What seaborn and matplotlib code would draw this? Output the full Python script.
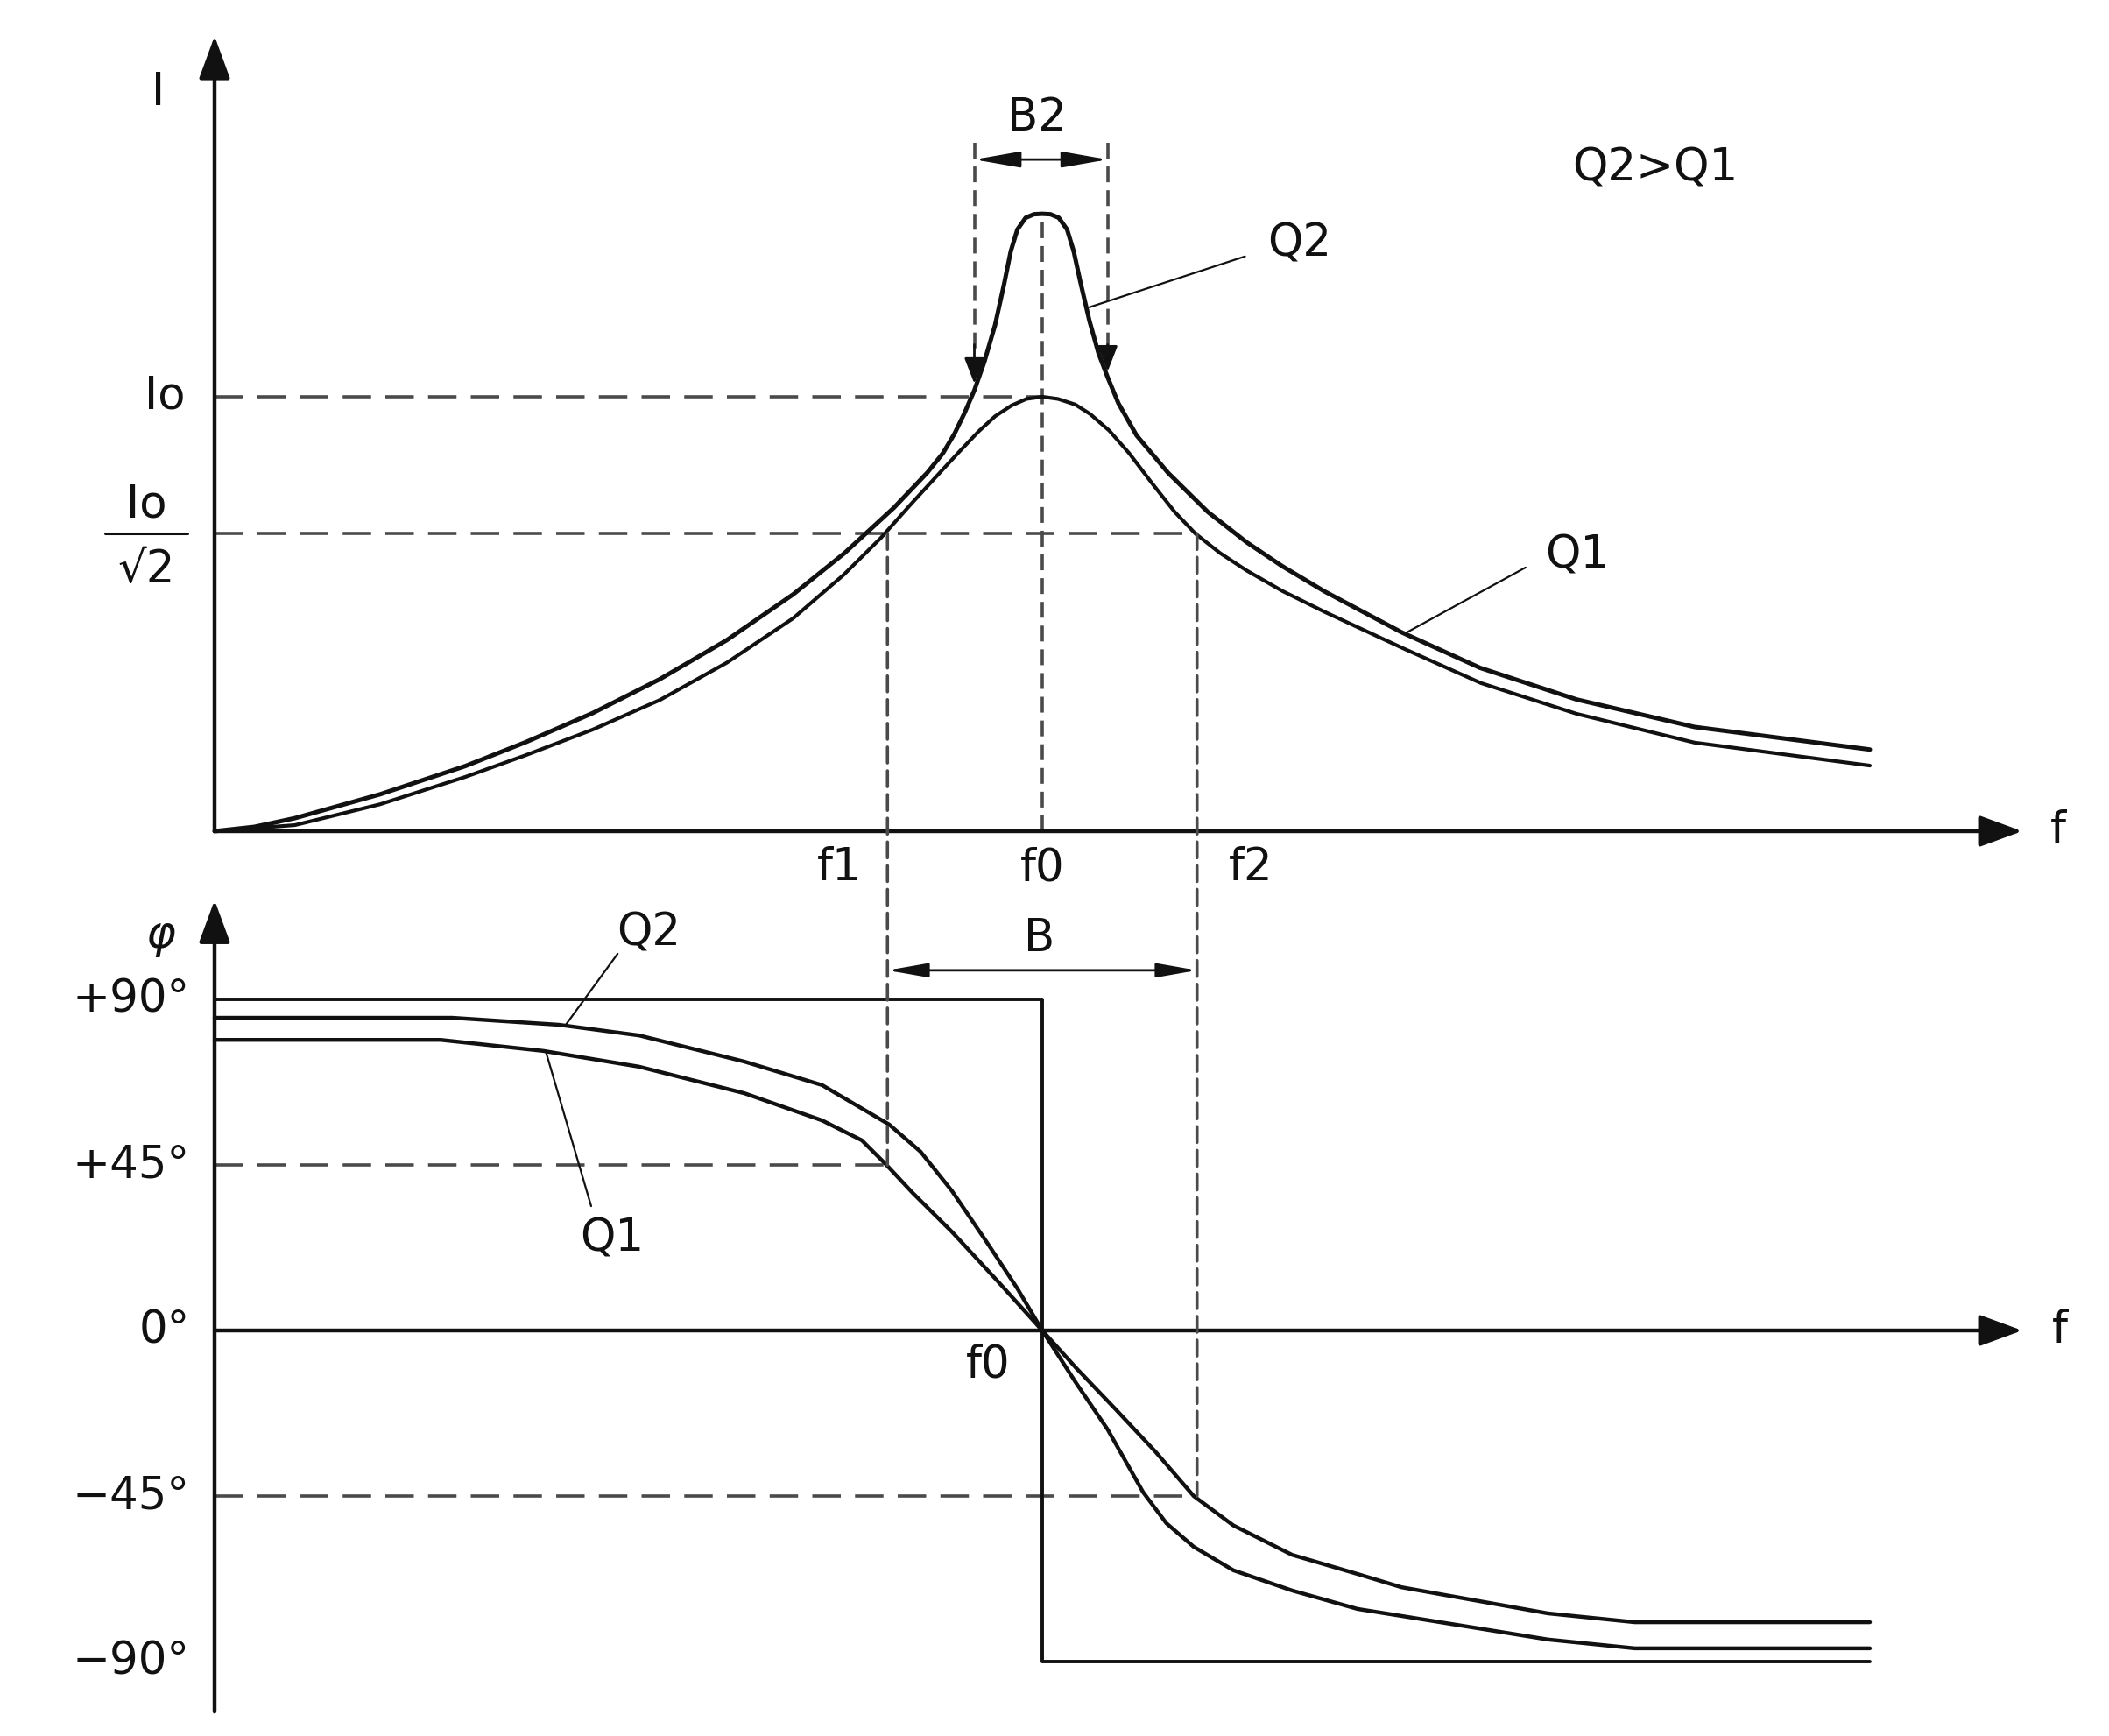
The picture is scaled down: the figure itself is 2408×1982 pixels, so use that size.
import matplotlib
matplotlib.use("Agg")
import matplotlib.pyplot as plt
import seaborn as sns
from matplotlib.patches import ConnectionPatch

# resonance curves, f in units of f0, I in units of Io
q1_f = [0, 0.097, 0.200, 0.303, 0.376, 0.457, 0.538, 0.619, 0.699, 0.760, 0.805, 0.841,
        0.881, 0.903, 0.923, 0.943, 0.963, 0.981, 1.0, 1.019, 1.040, 1.058, 1.081, 1.105,
        1.133, 1.160, 1.185, 1.215, 1.247, 1.290, 1.341, 1.436, 1.530, 1.646, 1.788, 2.0]
q1_i = [0, 0.014, 0.062, 0.125, 0.175, 0.234, 0.302, 0.388, 0.490, 0.590, 0.675, 0.752,
        0.835, 0.880, 0.920, 0.955, 0.980, 0.995, 1.0, 0.995, 0.982, 0.960, 0.922, 0.870,
        0.800, 0.735, 0.685, 0.640, 0.600, 0.553, 0.505, 0.421, 0.341, 0.270, 0.204, 0.151]
q2_f = [0, 0.048, 0.097, 0.200, 0.303, 0.376, 0.457, 0.538, 0.619, 0.699, 0.761, 0.821,
        0.861, 0.880, 0.894, 0.906, 0.918, 0.930, 0.943, 0.954, 0.962, 0.970, 0.980, 0.990,
        1.0, 1.010, 1.020, 1.030, 1.038, 1.046, 1.057, 1.068, 1.079, 1.092, 1.114, 1.152,
        1.200, 1.247, 1.290, 1.341, 1.434, 1.529, 1.646, 1.788, 2.0]
q2_i = [0, 0.010, 0.030, 0.085, 0.150, 0.205, 0.272, 0.350, 0.440, 0.545, 0.640, 0.745,
        0.825, 0.870, 0.915, 0.962, 1.015, 1.080, 1.165, 1.260, 1.335, 1.385, 1.412, 1.420,
        1.421, 1.420, 1.412, 1.385, 1.335, 1.265, 1.175, 1.100, 1.045, 0.985, 0.911, 0.825,
        0.735, 0.665, 0.610, 0.552, 0.458, 0.376, 0.303, 0.240, 0.188]

# phase curves (degrees)
ph1_f = [0, 0.273, 0.397, 0.513, 0.640, 0.734, 0.782, 0.811, 0.843, 0.891, 0.947, 1.0,
         1.041, 1.089, 1.137, 1.183, 1.231, 1.302, 1.381, 1.434, 1.611, 1.716, 2.0]
ph1 = [79, 79, 76.0, 71.7, 64.5, 57.1, 51.7, 45.2, 37.5, 26.8, 13.2, 0,
       -10.2, -21.5, -33.0, -45.0, -53.0, -61.0, -66.2, -69.8, -76.9, -79.3, -79.3]
ph2_f = [0, 0.287, 0.416, 0.513, 0.640, 0.734, 0.815, 0.853, 0.891, 0.933, 0.970, 1.0,
         1.041, 1.079, 1.122, 1.150, 1.183, 1.231, 1.302, 1.381, 1.434, 1.611, 1.716, 2.0]
ph2 = [85, 85, 83.1, 80.2, 73.1, 66.7, 56.0, 48.6, 37.9, 24.0, 11.4, 0,
       -14.3, -26.9, -44.0, -52.4, -58.8, -65.2, -70.7, -75.7, -77.6, -84.0, -86.4, -86.4]
ideal_f = [0, 1.0, 1.0, 2.0]
ideal_ph = [90, 90, -90, -90]

f0, f1, f2 = 1.0, 0.813, 1.187
b2_lo, b2_hi = 0.918, 1.079
io, io_r2 = 1.0, 0.685
q2_peak = 1.42
phase_ticks = [90, 45, 0, -45, -90]
phase_labels = ["+90°", "+45°", "0°", "−45°", "−90°"]

sns.set_theme(style="white")
plt.rcParams['font.family'] = ['DejaVu Sans']

fig = plt.figure(figsize=(24.08, 19.82), dpi=100)
ax1 = fig.add_axes([0.10174, 0.5212, 0.8830, 0.4755])
ax2 = fig.add_axes([0.10174, 0.00898, 0.8830, 0.4789])
ax1.set_xlim(0, 2.25)
ax1.set_ylim(0, 1.9)
ax2.set_xlim(0, 2.25)
ax2.set_ylim(-106, 120)
for ax in (ax1, ax2):
    ax.axis('off')

ink = '#111111'
dash_c = '#4a4a4a'
fs = 37
long_dash = (0, (9, 4.5))
short_dash = (0, (5, 2.5))


def axis_arrow(ax, start, tip):
    ax.annotate('', xy=tip, xytext=start,
                arrowprops=dict(arrowstyle='-|>,head_length=0.6,head_width=0.22',
                                lw=3.2, color=ink, mutation_scale=50,
                                shrinkA=0, shrinkB=0))


def band_arrow(ax, a, b, y, ms):
    ax.annotate('', xy=(b, y), xytext=(a, y),
                arrowprops=dict(arrowstyle='<|-|>,head_length=0.8,head_width=0.14',
                                lw=2, color=ink, mutation_scale=ms,
                                shrinkA=0, shrinkB=0))


def label(ax, x, y, s, **kw):
    ax.text(x, y, s, fontsize=fs, color=ink, va='center', **kw)


# ---- upper: amplitude ----
axis_arrow(ax1, (0, 0), (0, 1.83))
axis_arrow(ax1, (0, 0), (2.184, 0))

ax1.plot([0, f0], [io, io], ls=long_dash, lw=2.6, color=dash_c, clip_on=False)
ax1.plot([0, f2], [io_r2, io_r2], ls=long_dash, lw=2.6, color=dash_c, clip_on=False)
ax1.plot([f0, f0], [0, q2_peak], ls=short_dash, lw=2.6, color=dash_c, clip_on=False)
for b, tip in [(b2_lo, 1.030), (b2_hi, 1.058)]:
    ax1.plot([b, b], [1.585, 1.11], ls=short_dash, lw=2.6, color=dash_c, clip_on=False)
    ax1.annotate('', xy=(b, tip), xytext=(b, 1.12),
                 arrowprops=dict(arrowstyle='-|>,head_length=0.9,head_width=0.35',
                                 lw=2, color=ink, mutation_scale=20,
                                 shrinkA=0, shrinkB=0))
band_arrow(ax1, b2_lo, b2_hi, 1.546, 40)

sns.lineplot(x=q1_f, y=q1_i, ax=ax1, color=ink, lw=3.0, estimator=None, sort=False,
             clip_on=False, solid_joinstyle='round')
sns.lineplot(x=q2_f, y=q2_i, ax=ax1, color=ink, lw=3.6, estimator=None, sort=False,
             clip_on=False, solid_joinstyle='round')

ax1.plot([1.245, 1.057], [1.323, 1.206], color=ink, lw=1.6)
ax1.plot([1.584, 1.438], [0.607, 0.455], color=ink, lw=1.6)

label(ax1, -0.068, 1.70, "I", ha='center')
label(ax1, -0.035, io, "Io", ha='right')
label(ax1, -0.082, io_r2 + 0.065, "Io", ha='center')
ax1.plot([-0.132, -0.033], [io_r2, io_r2], color=ink, lw=2.2, clip_on=False)
label(ax1, -0.082, io_r2 - 0.085, "√2", ha='center')
label(ax1, 0.755, -0.085, "f1", ha='center')
label(ax1, 1.0, -0.085, "f0", ha='center')
label(ax1, 1.252, -0.085, "f2", ha='center')
label(ax1, 2.227, 0.0, "f", ha='center')
label(ax1, 0.994, 1.641, "B2", ha='center')
label(ax1, 1.740, 1.526, "Q2>Q1", ha='center')
label(ax1, 1.311, 1.351, "Q2", ha='center')
label(ax1, 1.646, 0.635, "Q1", ha='center')

# ---- lower: phase ----
axis_arrow(ax2, (0, -103.6), (0, 117))
axis_arrow(ax2, (0, 0), (2.184, 0))

ax2.plot([0, f1], [45, 45], ls=long_dash, lw=2.6, color=dash_c, clip_on=False)
ax2.plot([0, f2], [-45, -45], ls=long_dash, lw=2.6, color=dash_c, clip_on=False)
for fx, ph in [(f1, 45), (f2, -45)]:
    con = ConnectionPatch(xyA=(fx, io_r2), coordsA=ax1.transData,
                          xyB=(fx, ph), coordsB=ax2.transData,
                          ls=short_dash, lw=2.6, color=dash_c)
    fig.add_artist(con)
band_arrow(ax2, f1, f2, 97.9, 35)

sns.lineplot(x=ideal_f, y=ideal_ph, ax=ax2, color=ink, lw=2.8, estimator=None, sort=False,
             clip_on=False)
sns.lineplot(x=ph1_f, y=ph1, ax=ax2, color=ink, lw=3.2, estimator=None, sort=False,
             clip_on=False, solid_joinstyle='round')
sns.lineplot(x=ph2_f, y=ph2, ax=ax2, color=ink, lw=3.2, estimator=None, sort=False,
             clip_on=False, solid_joinstyle='round')

ax2.plot([0.487, 0.425], [102.4, 83.3], color=ink, lw=1.6)
ax2.plot([0.455, 0.400], [33.8, 76.0], color=ink, lw=1.6)

label(ax2, -0.065, 107.4, "φ", ha='center', style='italic')
for t, lab in zip(phase_ticks, phase_labels):
    label(ax2, -0.03, t, lab, ha='right')
label(ax2, 2.229, 0, "f", ha='center')
label(ax2, 0.935, -9.5, "f0", ha='center')
label(ax2, 0.996, 106.4, "B", ha='center')
label(ax2, 0.524, 108, "Q2", ha='center')
label(ax2, 0.480, 24.8, "Q1", ha='center')

fig.savefig("out.png", dpi=100, facecolor='white')
